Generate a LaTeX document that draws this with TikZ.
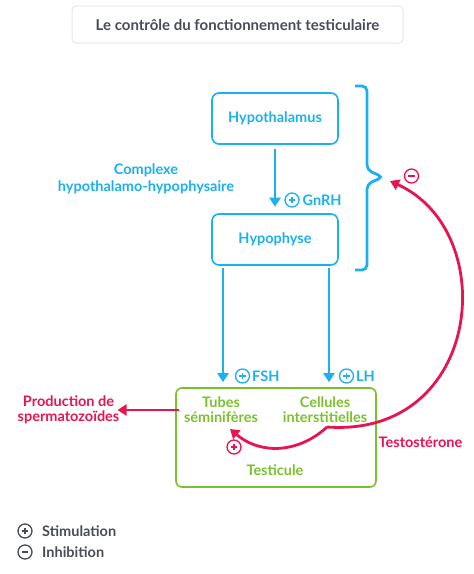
\documentclass[tikz,border=0pt]{standalone}
\usepackage{fontspec}
\setmainfont{Lato}
\usetikzlibrary{arrows.meta,calc}
\definecolor{cblue}{RGB}{27,176,238}
\definecolor{cred}{RGB}{230,20,80}
\definecolor{cgreen}{RGB}{122,193,45}
\definecolor{cgray}{RGB}{72,76,88}
\definecolor{cframe}{RGB}{228,230,234}
\tikzset{
  lbl/.style={font=\bfseries\fontsize{14.5}{15.5}\selectfont, inner sep=0pt, align=center},
  bluebox/.style={draw=cblue, line width=1.6pt, rounded corners=7pt, minimum width=126pt, minimum height=51pt, text=cblue, lbl},
  sym/.style={circle, draw, line width=1.3pt, minimum size=14pt, inner sep=0pt},
  plussym/.style={sym, path picture={
     \draw[line width=1.3pt] ([xshift=-3.4pt]path picture bounding box.center) -- ([xshift=3.4pt]path picture bounding box.center);
     \draw[line width=1.3pt] ([yshift=-3.4pt]path picture bounding box.center) -- ([yshift=3.4pt]path picture bounding box.center);}},
  minussym/.style={sym, path picture={
     \draw[line width=1.3pt] ([xshift=-3.4pt]path picture bounding box.center) -- ([xshift=3.4pt]path picture bounding box.center);}},
  barr/.style={draw=cblue, line width=2.8pt, -{Triangle[length=9pt,width=11pt]}},
  rarr/.style={draw=cred, line width=2.8pt, -{Triangle[length=9pt,width=11pt]}},
}
\begin{document}
\begin{tikzpicture}[x=1pt,y=-1pt]
\useasboundingbox (0,0) rectangle (474,574);
% title
\node[draw=cframe, line width=1pt, rounded corners=4pt, minimum width=331pt, minimum height=37pt, text=cgray, font=\bfseries\fontsize{15}{17}\selectfont] (title) at (237.5,24.5) {Le contrôle du fonctionnement testiculaire};
% boxes
\node[bluebox] (hypo) at (275,118.5) {Hypothalamus};
\node[bluebox] (hypoph) at (275,239.5) {Hypophyse};
\draw[barr, shorten <=4pt, shorten >=6.5pt] (hypo) -- (hypoph);
\node[plussym, draw=cblue] (pg) at (292,200) {};
\node[lbl, text=cblue, anchor=west] (gnrh) at (302.5,200) {GnRH};
\node[lbl, text=cblue, font=\bfseries\fontsize{14.5}{16.5}\selectfont] (complexe) at (146,179) {Complexe\\hypothalamo-hypophysaire};
% brace
\draw[cblue, line width=2.8pt, rounded corners=5pt] (355,86) -- (367,86) -- (367,170) -- (383,177) -- (367,184) -- (367,270) -- (355,270);
\coordinate (bracetip) at (390,181);
% testicule
\node[draw=cgreen, line width=1.6pt, rounded corners=6pt, minimum width=200pt, minimum height=99pt] (test) at (276,437.5) {};
\node[lbl, text=cgreen] (tubes) at (221,409.5) {Tubes\\séminifères};
\node[lbl, text=cgreen] (cell) at (325,409.5) {Cellules\\interstitielles};
\node[lbl, text=cgreen] (testlbl) at (275,470) {Testicule};
% FSH / LH
\coordinate (fshx) at (223,0);
\coordinate (lhx) at (329,0);
\draw[barr, shorten <=2pt, shorten >=5pt] (hypoph.south -| fshx) -- (test.north -| fshx);
\draw[barr, shorten <=2pt, shorten >=5pt] (hypoph.south -| lhx) -- (test.north -| lhx);
\node[plussym, draw=cblue] (pf) at (242.5,376) {};
\node[lbl, text=cblue, anchor=west] (fsh) at (252,376) {FSH};
\node[plussym, draw=cblue] (pl) at (346.5,376) {};
\node[lbl, text=cblue, anchor=west] (lh) at (356,376) {LH};
% production
\node[lbl, text=cred, anchor=east] (prod) at (119.5,410) {Production de\\spermatozoïdes};
\draw[rarr, shorten <=-4pt, shorten >=-2pt] (test.west |- prod) -- (prod.east);
% testosterone
\coordinate (K) at (327,427);
\coordinate (tubtip) at (230,429);
\draw[rarr] (K) .. controls (482,438) and (502,232) .. (bracetip);
\draw[rarr] (K) .. controls (300,452) and (262,456) .. (tubtip);
\node[lbl, text=cred] (testo) at (420.5,442) {Testostérone};
\node[minussym, draw=cred] (mr) at (411.5,176) {};
\node[plussym, draw=cred] (pr) at (234,447) {};
% legend
\node[plussym, draw=cgray] (lp) at (25,531) {};
\node[lbl, text=cgray, anchor=west] (stim) at (42,531) {Stimulation};
\node[minussym, draw=cgray] (lm) at (25,552) {};
\node[lbl, text=cgray, anchor=west] (inh) at (42,552) {Inhibition};
\end{tikzpicture}
\end{document}
